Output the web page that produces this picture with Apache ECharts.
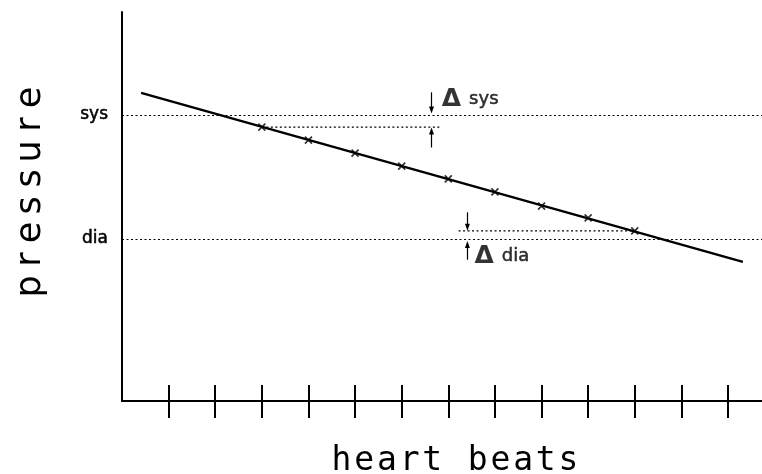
<!DOCTYPE html>
<html>
<head>
<meta charset="utf-8">
<script src="https://cdn.jsdelivr.net/npm/echarts@6/dist/echarts.min.js"></script>
<style>
  html, body { margin: 0; padding: 0; background: #fff; }
  #chart { width: 762px; height: 474px; }
</style>
</head>
<body>
<div id="chart"></div>
<script>
// Schematic: pressure drifting down over successive heart beats.
// x in beats, y in pressure units (sys = 120, dia = 80).
const beatTicks = [1, 2, 3, 4, 5, 6, 7, 8, 9, 10, 11, 12, 13];

const levelValues = [120, 80];
const levelNames  = ['sys', 'dia'];

// fitted trend line (two end points)
const trendX = [0.41, 13.32];
const trendY = [127.1, 72.6];

// measured beats (the little crosses)
const beatX        = [3, 4, 5, 6, 7, 8, 9, 10, 11];
const beatPressure = [116.1, 111.9, 107.7, 103.5, 99.4, 95.2, 90.6, 86.8, 82.6];

// short dotted steps marking the delta from the first / last beat
const sysStepX = [3, 6.83];
const sysStepY = 116.1;
const diaStepX = [7.22, 11];
const diaStepY = 82.6;

// delta arrows: [from, to] in pressure units
const sysArrowX    = 6.64;
const sysArrowDown = [127.3, 121.6];
const sysArrowUp   = [109.5, 114.8];
const diaArrowX    = 7.41;
const diaArrowDown = [88.6, 83.8];
const diaArrowUp   = [73.3, 78.2];

// delta captions
const deltaNames = ['sys', 'dia'];
const deltaX     = [6.86, 7.56];
const deltaY     = [125.0, 74.4];

const xTitle = 'heart beats';
const yTitle = 'pressure';

const INK = '#000';
const SANS = '"DejaVu Sans", Verdana, sans-serif';
const MONO = '"DejaVu Sans Mono", "Liberation Mono", monospace';

// the original titles are typeset with wide letter spacing: one fixed-width box per letter
const spaced = (s) => s.split('').map((c) => (c === ' ' ? '{c|\u00a0}' : '{c|' + c + '}')).join('');

// scanned print: give the small sans text a slightly heavier stroke
const heavy = { textBorderColor: INK, textBorderWidth: 0.5 };

const chart = echarts.init(document.getElementById('chart'), null, { renderer: 'canvas' });

const dotted = { color: INK, width: 1.2, type: [2, 2.5] };
const arrowLine = (x, pair) => [{ coord: [x, pair[0]] }, { coord: [x, pair[1]] }];

chart.setOption({
  backgroundColor: '#fff',
  animation: false,
  grid: { left: 122, right: 0, top: 12, bottom: 73, outerBoundsMode: 'none' },
  xAxis: [
    {
      type: 'value', min: 0, max: 13.73,
      name: spaced(xTitle), nameLocation: 'middle', nameGap: 44,
      nameTextStyle: { color: INK, padding: [0, 0, 0, 26],
                       rich: { c: { fontFamily: MONO, fontSize: 33, color: INK, width: 22.7 } } },
      axisLine: { show: true, lineStyle: { color: INK, width: 2 } },
      axisTick: { show: true, customValues: beatTicks, length: 17, lineStyle: { color: INK, width: 2 } },
      axisLabel: { show: false },
      splitLine: { show: false },
    },
    {
      type: 'value', min: 0, max: 13.73, position: 'bottom',
      axisLine: { show: false },
      axisTick: { show: true, inside: true, customValues: beatTicks, length: 16, lineStyle: { color: INK, width: 2 } },
      axisLabel: { show: false },
      splitLine: { show: false },
    },
  ],
  yAxis: {
    type: 'value', min: 27.74, max: 153.2,
    name: spaced(yTitle), nameLocation: 'middle', nameRotate: 90, nameGap: 74,
    nameTextStyle: { color: INK, padding: [0, 0, 0, 29],
                     rich: { c: { fontFamily: SANS, fontSize: 35, color: INK, width: 27 } } },
    axisLine: { show: true, lineStyle: { color: INK, width: 2 } },
    axisTick: { show: false },
    axisLabel: {
      customValues: levelValues, margin: 14, color: INK, fontFamily: SANS, fontSize: 17, ...heavy,
      formatter: (v) => levelNames[levelValues.indexOf(v)] ?? '',
    },
    splitLine: { show: false },
  },
  series: [
    {
      type: 'line', name: 'trend', data: trendX.map((x, i) => [x, trendY[i]]),
      symbol: 'none', lineStyle: { color: INK, width: 2.4 }, z: 3,
      markLine: {
        silent: true, symbol: 'none', label: { show: false },
        lineStyle: dotted,
        data: levelValues.map((v) => ({ yAxis: v })),
      },
    },
    {
      type: 'scatter', name: 'beats', data: beatX.map((x, i) => [x, beatPressure[i]]),
      symbol: 'path://M0,0L10,10M10,0L0,10', symbolSize: 7,
      itemStyle: { color: 'none', borderColor: INK, borderWidth: 1.7 }, z: 4,
    },
    {
      type: 'line', name: 'sys step', data: sysStepX.map((x) => [x, sysStepY]),
      symbol: 'none', lineStyle: dotted,
    },
    {
      type: 'line', name: 'dia step', data: diaStepX.map((x) => [x, diaStepY]),
      symbol: 'none', lineStyle: dotted,
      markLine: {
        silent: true, symbol: ['none', 'triangle'], symbolSize: [5, 7],
        label: { show: false },
        lineStyle: { color: INK, width: 1.2, type: 'solid' },
        data: [
          arrowLine(sysArrowX, sysArrowDown), arrowLine(sysArrowX, sysArrowUp),
          arrowLine(diaArrowX, diaArrowDown), arrowLine(diaArrowX, diaArrowUp),
        ],
      },
    },
    {
      type: 'scatter', name: 'deltas', data: deltaX.map((x, i) => [x, deltaY[i]]),
      symbolSize: 0, silent: true,
      label: {
        show: true, position: 'right', distance: 0, color: INK,
        formatter: (p) => '{d|Δ}{t|' + deltaNames[p.dataIndex] + '}',
        rich: {
          d: { fontFamily: SANS, fontSize: 25, fontWeight: 'bold', color: INK },
          t: { fontFamily: SANS, fontSize: 18, color: INK, padding: [0, 0, 0, 8], ...heavy },
        },
      },
    },
  ],
});
</script>
</body>
</html>
